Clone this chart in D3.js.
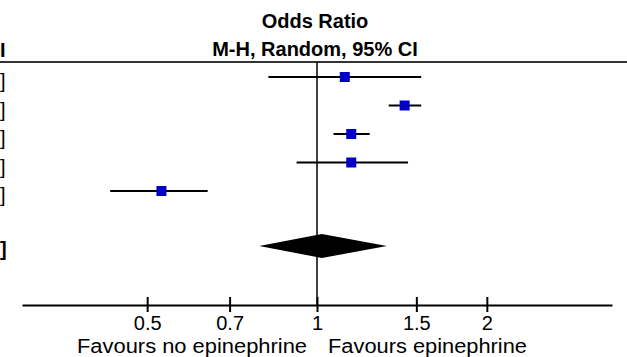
<!DOCTYPE html>
<html>
<head>
<meta charset="utf-8">
<script src="https://cdn.jsdelivr.net/npm/d3@7"></script>
<style>
  html, body { margin: 0; padding: 0; background: #fff; }
  svg { display: block; font-family: "Liberation Sans", Arial, sans-serif; }
</style>
</head>
<body>
<svg id="chart" width="627" height="357"></svg>
<script>
// ─── Daten ────────────────────────────────────────────────────────────────────
const studies   = ['S1', 'S2', 'S3', 'S4', 'S5'];
const oddsRatio = [1.12, 1.43, 1.15, 1.15, 0.53];
const ciLow     = [0.82, 1.34, 1.07, 0.92, 0.43];
const ciHigh    = [1.53, 1.53, 1.24, 1.45, 0.64];

const pooled    = { or: 1.02, low: 0.79, high: 1.33 };

const tickValues = [0.5, 0.7, 1, 1.5, 2];
const leftLabel  = 'Favours no epinephrine';
const rightLabel = 'Favours epinephrine';

const rows = studies.map((s, i) => ({
  study: s, or: oddsRatio[i], low: ciLow[i], high: ciHigh[i]
}));

// ─── Layout ───────────────────────────────────────────────────────────────────
const svg = d3.select('#chart');
const axisY  = 305;
const headY  = 62;

const x = d3.scaleLog()
  .domain([0.3, 1 / 0.3])
  .range([22, 612]);

const y = d3.scalePoint()
  .domain(studies)
  .range([77, 191]);

const pooledY = 246;

// Kopfzeile
svg.append('text')
  .attr('x', 315).attr('y', 28)
  .attr('text-anchor', 'middle')
  .attr('font-size', 20).attr('font-weight', 'bold')
  .text('Odds Ratio');

svg.append('text')
  .attr('x', 315).attr('y', 56)
  .attr('text-anchor', 'middle')
  .attr('font-size', 20).attr('font-weight', 'bold')
  .text('M-H, Random, 95% CI');

// Rest der linken Tabellenspalte (nur der rechte Rand ist im Bild)
svg.append('text')
  .attr('x', 0).attr('y', 57)
  .attr('font-size', 20).attr('font-weight', 'bold')
  .text('I');

svg.append('line')
  .attr('x1', 0).attr('x2', 627)
  .attr('y1', headY).attr('y2', headY)
  .attr('stroke', '#333').attr('stroke-width', 2);

svg.selectAll('text.br')
  .data(rows)
  .enter()
  .append('text')
  .attr('class', 'br')
  .attr('x', 0)
  .attr('y', d => y(d.study) + 11)
  .attr('font-size', 20)
  .text(']');

svg.append('text')
  .attr('x', 0).attr('y', pooledY + 10)
  .attr('font-size', 20).attr('font-weight', 'bold')
  .text(']');

// Nulllinie bei OR = 1
svg.append('line')
  .attr('x1', x(1)).attr('x2', x(1))
  .attr('y1', headY).attr('y2', axisY)
  .attr('stroke', '#000').attr('stroke-width', 1.5);

// Konfidenzintervalle
svg.selectAll('line.ci')
  .data(rows)
  .enter()
  .append('line')
  .attr('class', 'ci')
  .attr('x1', d => x(d.low))
  .attr('x2', d => x(d.high))
  .attr('y1', d => y(d.study))
  .attr('y2', d => y(d.study))
  .attr('stroke', '#000')
  .attr('stroke-width', 2);

// Punktschätzer
const sq = 10;
svg.selectAll('rect.pt')
  .data(rows)
  .enter()
  .append('rect')
  .attr('class', 'pt')
  .attr('x', d => x(d.or) - sq / 2)
  .attr('y', d => y(d.study) - sq / 2)
  .attr('width', sq)
  .attr('height', sq)
  .attr('fill', '#0000c8');

// Raute (gepoolter Effekt)
svg.append('path')
  .attr('d', [
    [x(pooled.low),  pooledY],
    [x(pooled.or),   pooledY - 12],
    [x(pooled.high), pooledY],
    [x(pooled.or),   pooledY + 12]
  ].map((p, i) => (i ? 'L' : 'M') + p[0] + ',' + p[1]).join('') + 'Z')
  .attr('fill', '#000');

// x-Achse
const axis = d3.axisBottom(x)
  .tickValues(tickValues)
  .tickFormat(d3.format('~g'))
  .tickSize(7)
  .tickSizeOuter(0);

const gAxis = svg.append('g')
  .attr('transform', `translate(0,${axisY})`)
  .call(axis);

gAxis.select('.domain').attr('stroke', '#000').attr('stroke-width', 2);
gAxis.selectAll('.tick line')
  .attr('y1', -8).attr('y2', 7)
  .attr('stroke', '#000').attr('stroke-width', 2);
gAxis.selectAll('.tick text')
  .attr('y', 25).attr('dy', 0)
  .attr('font-size', 20)
  .attr('font-family', '"Liberation Sans", Arial, sans-serif')
  .attr('fill', '#000');

// Beschriftung unten
svg.append('text')
  .attr('x', 307).attr('y', 353)
  .attr('text-anchor', 'end')
  .attr('font-size', 20)
  .attr('textLength', 230).attr('lengthAdjust', 'spacingAndGlyphs')
  .text(leftLabel);

svg.append('text')
  .attr('x', 328).attr('y', 353)
  .attr('text-anchor', 'start')
  .attr('font-size', 20)
  .attr('textLength', 199).attr('lengthAdjust', 'spacingAndGlyphs')
  .text(rightLabel);
</script>
</body>
</html>
